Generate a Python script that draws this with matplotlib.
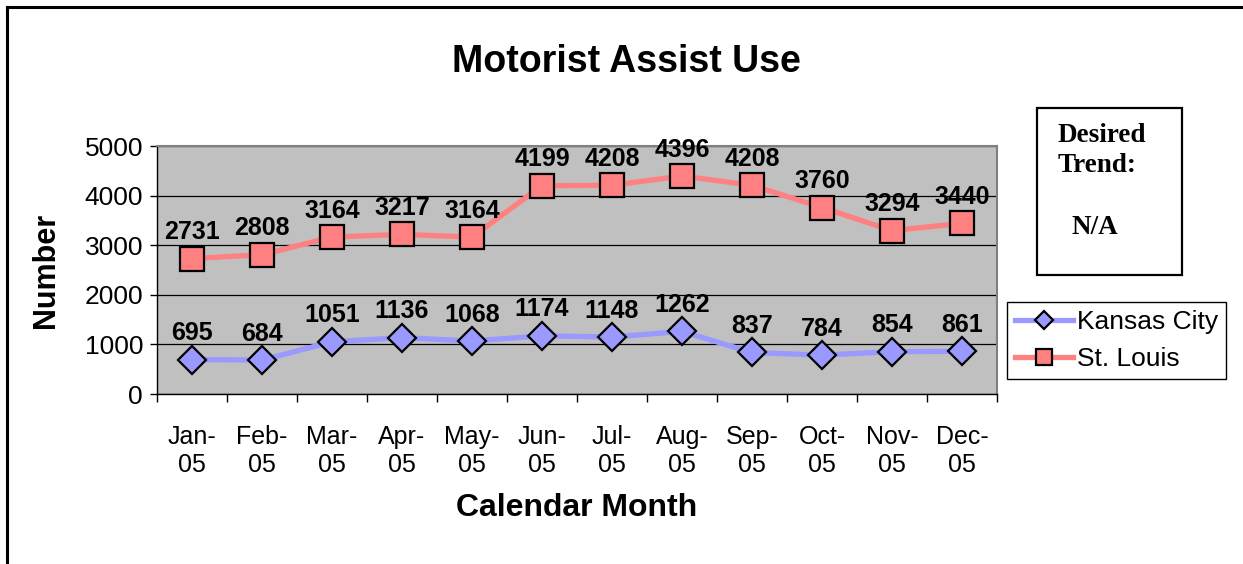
import matplotlib.pyplot as plt
from matplotlib.lines import Line2D
from matplotlib.patches import Rectangle

# chart data
months = ['Jan-\n05', 'Feb-\n05', 'Mar-\n05', 'Apr-\n05', 'May-\n05', 'Jun-\n05',
          'Jul-\n05', 'Aug-\n05', 'Sep-\n05', 'Oct-\n05', 'Nov-\n05', 'Dec-\n05']
kansas_city = [695, 684, 1051, 1136, 1068, 1174, 1148, 1262, 837, 784, 854, 861]
st_louis = [2731, 2808, 3164, 3217, 3164, 4199, 4208, 4396, 4208, 3760, 3294, 3440]
y_ticks = [0, 1000, 2000, 3000, 4000, 5000]

W, H = 1243, 564
plt.rcParams['font.family'] = ['Liberation Sans', 'DejaVu Sans']

fig = plt.figure(figsize=(W / 100, H / 100), dpi=100)
fig.patch.set_facecolor('white')


def fx(px):
    return px / W


def fy(py):
    return 1 - py / H


ax = fig.add_axes([fx(157), fy(394), fx(997) - fx(157), fy(146) - fy(394)])
ax.set_facecolor('#C0C0C0')

x = list(range(len(months)))
ax.plot(x, kansas_city, color='#9999FF', lw=3.8, marker='D', markersize=14,
        markerfacecolor='#9999FF', markeredgecolor='black', markeredgewidth=1.6,
        label='Kansas City', zorder=3)
ax.plot(x, st_louis, color='#FF8080', lw=3.8, marker='s', markersize=17.5,
        markerfacecolor='#FF8080', markeredgecolor='black', markeredgewidth=1.6,
        label='St. Louis', zorder=3)

for series in (kansas_city, st_louis):
    for i, v in enumerate(series):
        ax.annotate(str(v), (i, v), xytext=(0, 19), textcoords='offset points',
                    ha='center', va='center', fontsize=18, fontweight='bold',
                    zorder=4)

ax.set_xlim(-0.5, len(months) - 0.5)
ax.set_ylim(0, 5000)
ax.set_yticks(y_ticks)
ax.yaxis.grid(True, color='black', lw=0.9)
ax.set_axisbelow(True)
ax.tick_params(axis='y', direction='out', length=5, width=1, pad=5, labelsize=19)

ax.set_xticks(x)
ax.set_xticklabels(months, fontsize=18, linespacing=1.25)
ax.tick_params(axis='x', which='major', length=0, pad=22)
ax.set_xticks([i - 0.5 for i in range(len(months) + 1)], minor=True)
ax.tick_params(axis='x', which='minor', direction='out', length=6, width=1)

for side in ('top', 'right'):
    ax.spines[side].set_color('#808080')
    ax.spines[side].set_linewidth(1.5)
for side in ('left', 'bottom'):
    ax.spines[side].set_color('black')
    ax.spines[side].set_linewidth(1)

fig.text(fx(626), fy(62), 'Motorist Assist Use', ha='center', va='center',
         fontsize=27, fontweight='bold')
fig.text(fx(46), fy(270), 'Number', ha='center', va='center', rotation=90,
         fontsize=22, fontweight='bold')
fig.text(fx(577), fy(508), 'Calendar Month', ha='center', va='center',
         fontsize=23, fontweight='bold')

# outer chart border (only left and top visible)
fig.add_artist(Line2D([fx(7), fx(7)], [0, fy(7)], color='black', lw=2.2))
fig.add_artist(Line2D([fx(7), 1], [fy(7), fy(7)], color='black', lw=2.2))

# desired trend box
fig.add_artist(Rectangle((fx(1037), fy(275)), fx(1182) - fx(1037), fy(108) - fy(275),
                         fill=False, edgecolor='black', lw=1.6))
fig.text(fx(1058), fy(135), 'Desired', ha='left', va='center',
         family=['Liberation Serif', 'DejaVu Serif'], fontweight='bold', fontsize=19.5)
fig.text(fx(1058), fy(165), 'Trend:', ha='left', va='center',
         family=['Liberation Serif', 'DejaVu Serif'], fontweight='bold', fontsize=19.5)
fig.text(fx(1072), fy(228), 'N/A', ha='left', va='center',
         family=['Liberation Serif', 'DejaVu Serif'], fontweight='bold', fontsize=19.5)

leg = ax.legend(loc='upper left', bbox_to_anchor=(fx(1007), fy(302)),
                bbox_transform=fig.transFigure, borderaxespad=0, fontsize=19,
                frameon=True, fancybox=False, edgecolor='black', framealpha=1,
                handlelength=2.2, handletextpad=0.15, borderpad=0.3,
                labelspacing=0.5, markerscale=0.65)
leg.get_frame().set_linewidth(1)

fig.savefig('out.png', dpi=100)
